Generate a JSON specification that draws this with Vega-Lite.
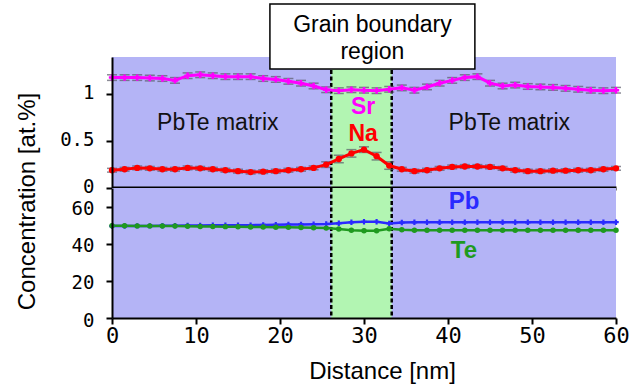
{
  "$schema": "https://vega.github.io/schema/vega-lite/v6.json",
  "padding": {"left": 14, "top": 3, "right": 2, "bottom": 5},
  "background": "white",
  "bounds": "flush",
  "spacing": 0,
  "config": {
    "view": {"fill": "#b4b4f6", "stroke": null},
    "axis": {"domainColor": "black", "domainWidth": 2, "tickColor": "black", "tickWidth": 2, "tickSize": 6, "labelFont": "DejaVu Sans Mono", "labelFontSize": 20, "labelColor": "black", "labelFlush": false, "grid": false, "titleFont": "Liberation Sans", "titleFontSize": 24, "titleFontWeight": "normal", "titleColor": "black"}
  },
  "datasets": {
    "band": [{"x0": 26.1, "x1": 33.3}],
    "edges": [{"x": 26.1}, {"x": 33.3}],
    "box": [{"x0": 18.8, "x1": 43.2, "y0": 1.271, "y1": 1.967}],
    "gbtext": [{"x": 31.0, "y": 1.742, "t": "Grain boundary"}, {"x": 31.0, "y": 1.45, "t": "region"}],
    "matrix": [{"x": 12.6, "y": 0.69, "t": "PbTe matrix"}, {"x": 47.3, "y": 0.69, "t": "PbTe matrix"}],
    "toplab": [{"x": 29.9, "y": 0.87, "t": "Sr", "el": "Sr"}, {"x": 29.9, "y": 0.58, "t": "Na", "el": "Na"}],
    "botlab": [{"x": 41.9, "y": 62.2, "t": "Pb", "el": "Pb"}, {"x": 41.9, "y": 35.9, "t": "Te", "el": "Te"}],
    "profiles": [
      {"x":0,"el":"Sr","v":1.18,"e":0.03},{"x":1.5,"el":"Sr","v":1.18,"e":0.03},{"x":3,"el":"Sr","v":1.18,"e":0.03},{"x":4.5,"el":"Sr","v":1.175,"e":0.03},{"x":6,"el":"Sr","v":1.17,"e":0.03},{"x":7.5,"el":"Sr","v":1.15,"e":0.03},{"x":9,"el":"Sr","v":1.2,"e":0.03},{"x":10.5,"el":"Sr","v":1.21,"e":0.03},{"x":12,"el":"Sr","v":1.2,"e":0.03},{"x":13.5,"el":"Sr","v":1.19,"e":0.03},{"x":15,"el":"Sr","v":1.19,"e":0.03},{"x":16.5,"el":"Sr","v":1.19,"e":0.03},{"x":18,"el":"Sr","v":1.17,"e":0.03},{"x":19.5,"el":"Sr","v":1.16,"e":0.03},{"x":21,"el":"Sr","v":1.14,"e":0.03},{"x":22.5,"el":"Sr","v":1.12,"e":0.03},{"x":24,"el":"Sr","v":1.09,"e":0.03},{"x":25.5,"el":"Sr","v":1.05,"e":0.03},{"x":27,"el":"Sr","v":1.04,"e":0.03},{"x":28.5,"el":"Sr","v":1.05,"e":0.03},{"x":30,"el":"Sr","v":1.045,"e":0.03},{"x":31.5,"el":"Sr","v":1.04,"e":0.03},{"x":33,"el":"Sr","v":1.055,"e":0.03},{"x":34.5,"el":"Sr","v":1.07,"e":0.03},{"x":36,"el":"Sr","v":1.045,"e":0.03},{"x":37.5,"el":"Sr","v":1.08,"e":0.03},{"x":39,"el":"Sr","v":1.12,"e":0.03},{"x":40.5,"el":"Sr","v":1.15,"e":0.03},{"x":42,"el":"Sr","v":1.18,"e":0.03},{"x":43.5,"el":"Sr","v":1.19,"e":0.03},{"x":45,"el":"Sr","v":1.12,"e":0.03},{"x":46.5,"el":"Sr","v":1.09,"e":0.03},{"x":48,"el":"Sr","v":1.1,"e":0.03},{"x":49.5,"el":"Sr","v":1.085,"e":0.03},{"x":51,"el":"Sr","v":1.08,"e":0.03},{"x":52.5,"el":"Sr","v":1.075,"e":0.03},{"x":54,"el":"Sr","v":1.065,"e":0.03},{"x":55.5,"el":"Sr","v":1.055,"e":0.03},{"x":57,"el":"Sr","v":1.045,"e":0.03},{"x":58.5,"el":"Sr","v":1.04,"e":0.03},{"x":60,"el":"Sr","v":1.045,"e":0.03},
      {"x":0,"el":"Na","v":0.19,"e":0.02},{"x":1.5,"el":"Na","v":0.2,"e":0.02},{"x":3,"el":"Na","v":0.215,"e":0.02},{"x":4.5,"el":"Na","v":0.21,"e":0.02},{"x":6,"el":"Na","v":0.2,"e":0.02},{"x":7.5,"el":"Na","v":0.2,"e":0.02},{"x":9,"el":"Na","v":0.215,"e":0.02},{"x":10.5,"el":"Na","v":0.21,"e":0.02},{"x":12,"el":"Na","v":0.2,"e":0.02},{"x":13.5,"el":"Na","v":0.19,"e":0.02},{"x":15,"el":"Na","v":0.18,"e":0.02},{"x":16.5,"el":"Na","v":0.17,"e":0.02},{"x":18,"el":"Na","v":0.175,"e":0.02},{"x":19.5,"el":"Na","v":0.18,"e":0.02},{"x":21,"el":"Na","v":0.19,"e":0.02},{"x":22.5,"el":"Na","v":0.2,"e":0.02},{"x":24,"el":"Na","v":0.215,"e":0.02},{"x":25.5,"el":"Na","v":0.25,"e":0.03},{"x":27,"el":"Na","v":0.31,"e":0.04},{"x":28.5,"el":"Na","v":0.37,"e":0.04},{"x":30,"el":"Na","v":0.41,"e":0.03},{"x":31.5,"el":"Na","v":0.34,"e":0.04},{"x":33,"el":"Na","v":0.24,"e":0.04},{"x":34.5,"el":"Na","v":0.2,"e":0.02},{"x":36,"el":"Na","v":0.18,"e":0.02},{"x":37.5,"el":"Na","v":0.19,"e":0.02},{"x":39,"el":"Na","v":0.21,"e":0.02},{"x":40.5,"el":"Na","v":0.225,"e":0.02},{"x":42,"el":"Na","v":0.23,"e":0.02},{"x":43.5,"el":"Na","v":0.23,"e":0.02},{"x":45,"el":"Na","v":0.225,"e":0.02},{"x":46.5,"el":"Na","v":0.21,"e":0.02},{"x":48,"el":"Na","v":0.19,"e":0.02},{"x":49.5,"el":"Na","v":0.18,"e":0.02},{"x":51,"el":"Na","v":0.18,"e":0.02},{"x":52.5,"el":"Na","v":0.185,"e":0.02},{"x":54,"el":"Na","v":0.185,"e":0.02},{"x":55.5,"el":"Na","v":0.19,"e":0.02},{"x":57,"el":"Na","v":0.19,"e":0.02},{"x":58.5,"el":"Na","v":0.2,"e":0.02},{"x":60,"el":"Na","v":0.21,"e":0.02},
      {"x":0,"el":"Pb","v":49.5},{"x":1.5,"el":"Pb","v":49.5},{"x":3,"el":"Pb","v":49.6},{"x":4.5,"el":"Pb","v":49.6},{"x":6,"el":"Pb","v":49.7},{"x":7.5,"el":"Pb","v":49.7},{"x":9,"el":"Pb","v":49.8},{"x":10.5,"el":"Pb","v":49.8},{"x":12,"el":"Pb","v":49.9},{"x":13.5,"el":"Pb","v":49.9},{"x":15,"el":"Pb","v":50},{"x":16.5,"el":"Pb","v":50},{"x":18,"el":"Pb","v":50.1},{"x":19.5,"el":"Pb","v":50.2},{"x":21,"el":"Pb","v":50.3},{"x":22.5,"el":"Pb","v":50.4},{"x":24,"el":"Pb","v":50.5},{"x":25.5,"el":"Pb","v":50.6},{"x":27,"el":"Pb","v":51},{"x":28.5,"el":"Pb","v":51.5},{"x":30,"el":"Pb","v":51.8},{"x":31.5,"el":"Pb","v":51.8},{"x":33,"el":"Pb","v":50.9},{"x":34.5,"el":"Pb","v":51.4},{"x":36,"el":"Pb","v":51.5},{"x":37.5,"el":"Pb","v":51.6},{"x":39,"el":"Pb","v":51.5},{"x":40.5,"el":"Pb","v":51.6},{"x":42,"el":"Pb","v":51.5},{"x":43.5,"el":"Pb","v":51.6},{"x":45,"el":"Pb","v":51.6},{"x":46.5,"el":"Pb","v":51.5},{"x":48,"el":"Pb","v":51.6},{"x":49.5,"el":"Pb","v":51.5},{"x":51,"el":"Pb","v":51.6},{"x":52.5,"el":"Pb","v":51.5},{"x":54,"el":"Pb","v":51.6},{"x":55.5,"el":"Pb","v":51.5},{"x":57,"el":"Pb","v":51.6},{"x":58.5,"el":"Pb","v":51.5},{"x":60,"el":"Pb","v":51.6},
      {"x":0,"el":"Te","v":49.7},{"x":1.5,"el":"Te","v":49.7},{"x":3,"el":"Te","v":49.6},{"x":4.5,"el":"Te","v":49.6},{"x":6,"el":"Te","v":49.5},{"x":7.5,"el":"Te","v":49.5},{"x":9,"el":"Te","v":49.4},{"x":10.5,"el":"Te","v":49.3},{"x":12,"el":"Te","v":49.3},{"x":13.5,"el":"Te","v":49.2},{"x":15,"el":"Te","v":49.1},{"x":16.5,"el":"Te","v":49},{"x":18,"el":"Te","v":49},{"x":19.5,"el":"Te","v":48.9},{"x":21,"el":"Te","v":48.8},{"x":22.5,"el":"Te","v":48.7},{"x":24,"el":"Te","v":48.6},{"x":25.5,"el":"Te","v":48.4},{"x":27,"el":"Te","v":47.9},{"x":28.5,"el":"Te","v":47.3},{"x":30,"el":"Te","v":47},{"x":31.5,"el":"Te","v":47},{"x":33,"el":"Te","v":48},{"x":34.5,"el":"Te","v":47.5},{"x":36,"el":"Te","v":47.2},{"x":37.5,"el":"Te","v":47.2},{"x":39,"el":"Te","v":47.3},{"x":40.5,"el":"Te","v":47.2},{"x":42,"el":"Te","v":47.2},{"x":43.5,"el":"Te","v":47.3},{"x":45,"el":"Te","v":47.2},{"x":46.5,"el":"Te","v":47.2},{"x":48,"el":"Te","v":47.2},{"x":49.5,"el":"Te","v":47.3},{"x":51,"el":"Te","v":47.2},{"x":52.5,"el":"Te","v":47.2},{"x":54,"el":"Te","v":47.2},{"x":55.5,"el":"Te","v":47.3},{"x":57,"el":"Te","v":47.2},{"x":58.5,"el":"Te","v":47.2},{"x":60,"el":"Te","v":47.2}
    ]
  },
  "vconcat": [
    {
      "width": 504,
      "height": 131,
      "layer": [
        {
          "data": {"name": "band"},
          "mark": {"type": "rect", "color": "#b2f5b2"},
          "encoding": {
            "x": {"field": "x0", "type": "quantitative", "scale": {"domain": [0, 60], "nice": false}, "axis": {"orient": "bottom", "labels": false, "ticks": false, "title": null, "domain": true, "domainWidth": 4, "zindex": 1}},
            "x2": {"field": "x1"}
          }
        },
        {
          "data": {"name": "edges"},
          "mark": {"type": "rule", "color": "black", "strokeWidth": 2.5, "strokeDash": [4, 2.5]},
          "encoding": {"x": {"field": "x", "type": "quantitative"}}
        },
        {
          "data": {"name": "profiles"},
          "transform": [{"filter": "datum.el == 'Sr' || datum.el == 'Na'"}],
          "mark": {"type": "errorbar", "color": "#5a5a6a", "rule": false, "ticks": {"color": "#5a5a6a", "size": 10, "thickness": 1.5}},
          "encoding": {
            "x": {"field": "x", "type": "quantitative"},
            "y": {"field": "v", "type": "quantitative", "scale": {"domain": [0, 1.4], "nice": false}},
            "yError": {"field": "e"},
            "detail": {"field": "el"}
          }
        },
        {
          "data": {"name": "profiles"},
          "transform": [{"filter": "datum.el == 'Sr' || datum.el == 'Na'"}],
          "mark": {"type": "line", "strokeWidth": 3},
          "encoding": {
            "x": {"field": "x", "type": "quantitative"},
            "y": {"field": "v", "type": "quantitative", "scale": {"domain": [0, 1.4], "nice": false}, "axis": {"values": [0, 0.5, 1], "format": "~g", "title": null, "labelPadding": 12, "labelOffset": -2, "labelFontSize": 19, "zindex": 1}},
            "color": {"field": "el", "type": "nominal", "scale": {"domain": ["Sr", "Na", "Pb", "Te"], "range": ["#ff00ff", "#ff0000", "#2a2aff", "#1f9a1f"]}, "legend": null}
          }
        },
        {
          "data": {"name": "profiles"},
          "transform": [{"filter": "datum.el == 'Sr' || datum.el == 'Na'"}],
          "mark": {"type": "point", "filled": true, "opacity": 1},
          "encoding": {
            "x": {"field": "x", "type": "quantitative"},
            "y": {"field": "v", "type": "quantitative", "scale": {"domain": [0, 1.4], "nice": false}},
            "color": {"field": "el", "type": "nominal", "legend": null},
            "shape": {"field": "el", "type": "nominal", "scale": {"domain": ["Sr", "Na", "Pb", "Te"], "range": ["cross", "circle", "cross", "circle"]}, "legend": null},
            "size": {"value": 40}
          }
        },
        {
          "data": {"name": "box"},
          "mark": {"type": "rect", "fill": "white", "stroke": "black", "strokeWidth": 1.5},
          "encoding": {
            "x": {"field": "x0", "type": "quantitative"},
            "x2": {"field": "x1"},
            "y": {"field": "y0", "type": "quantitative", "scale": {"domain": [0, 1.4], "nice": false}},
            "y2": {"field": "y1"}
          }
        },
        {
          "data": {"name": "gbtext"},
          "mark": {"type": "text", "font": "Liberation Sans", "fontSize": 23, "color": "black", "baseline": "middle", "align": "center"},
          "encoding": {
            "x": {"field": "x", "type": "quantitative"},
            "y": {"field": "y", "type": "quantitative", "scale": {"domain": [0, 1.4], "nice": false}},
            "text": {"field": "t"}
          }
        },
        {
          "data": {"name": "matrix"},
          "mark": {"type": "text", "font": "Liberation Sans", "fontSize": 23, "color": "#111111", "baseline": "middle", "align": "center"},
          "encoding": {
            "x": {"field": "x", "type": "quantitative"},
            "y": {"field": "y", "type": "quantitative", "scale": {"domain": [0, 1.4], "nice": false}},
            "text": {"field": "t"}
          }
        },
        {
          "data": {"name": "toplab"},
          "mark": {"type": "text", "font": "Liberation Sans", "fontSize": 23, "fontWeight": "bold", "baseline": "middle", "align": "center"},
          "encoding": {
            "x": {"field": "x", "type": "quantitative"},
            "y": {"field": "y", "type": "quantitative", "scale": {"domain": [0, 1.4], "nice": false}},
            "color": {"field": "el", "type": "nominal", "legend": null},
            "text": {"field": "t"}
          }
        }
      ]
    },
    {
      "width": 504,
      "height": 130,
      "layer": [
        {
          "data": {"name": "band"},
          "mark": {"type": "rect", "color": "#b2f5b2"},
          "encoding": {
            "x": {"field": "x0", "type": "quantitative", "scale": {"domain": [0, 60], "nice": false}, "axis": {"values": [0, 10, 20, 30, 40, 50, 60], "title": "Distance [nm]", "labelPadding": 1, "labelFontSize": 22, "titleX": 270, "titleY": 53, "titleAlign": "center", "titleBaseline": "middle", "zindex": 1}},
            "x2": {"field": "x1"}
          }
        },
        {
          "data": {"name": "edges"},
          "mark": {"type": "rule", "color": "black", "strokeWidth": 2.5, "strokeDash": [4, 2.5]},
          "encoding": {"x": {"field": "x", "type": "quantitative"}}
        },
        {
          "data": {"name": "profiles"},
          "transform": [{"filter": "datum.el == 'Pb' || datum.el == 'Te'"}],
          "mark": {"type": "line", "strokeWidth": 2.5},
          "encoding": {
            "x": {"field": "x", "type": "quantitative"},
            "y": {"field": "v", "type": "quantitative", "scale": {"domain": [0, 70], "nice": false}, "axis": {"values": [0, 20, 40, 60], "title": "Concentration [at.%]", "labelPadding": 12, "labelOffset": 2, "labelFontSize": 19, "titleX": -85, "titleY": 13, "titleAngle": -90, "titleAlign": "center", "titleBaseline": "middle", "zindex": 1}},
            "color": {"field": "el", "type": "nominal", "scale": {"domain": ["Sr", "Na", "Pb", "Te"], "range": ["#ff00ff", "#ff0000", "#2a2aff", "#1f9a1f"]}, "legend": null}
          }
        },
        {
          "data": {"name": "profiles"},
          "transform": [{"filter": "datum.el == 'Pb' || datum.el == 'Te'"}],
          "mark": {"type": "point", "filled": true, "opacity": 1},
          "encoding": {
            "x": {"field": "x", "type": "quantitative"},
            "y": {"field": "v", "type": "quantitative", "scale": {"domain": [0, 70], "nice": false}},
            "color": {"field": "el", "type": "nominal", "legend": null},
            "shape": {"field": "el", "type": "nominal", "scale": {"domain": ["Sr", "Na", "Pb", "Te"], "range": ["cross", "circle", "cross", "circle"]}, "legend": null},
            "size": {"value": 30}
          }
        },
        {
          "data": {"name": "botlab"},
          "mark": {"type": "text", "font": "Liberation Sans", "fontSize": 24, "fontWeight": "bold", "baseline": "middle", "align": "center"},
          "encoding": {
            "x": {"field": "x", "type": "quantitative"},
            "y": {"field": "y", "type": "quantitative", "scale": {"domain": [0, 70], "nice": false}},
            "color": {"field": "el", "type": "nominal", "legend": null},
            "text": {"field": "t"}
          }
        }
      ]
    }
  ]
}
